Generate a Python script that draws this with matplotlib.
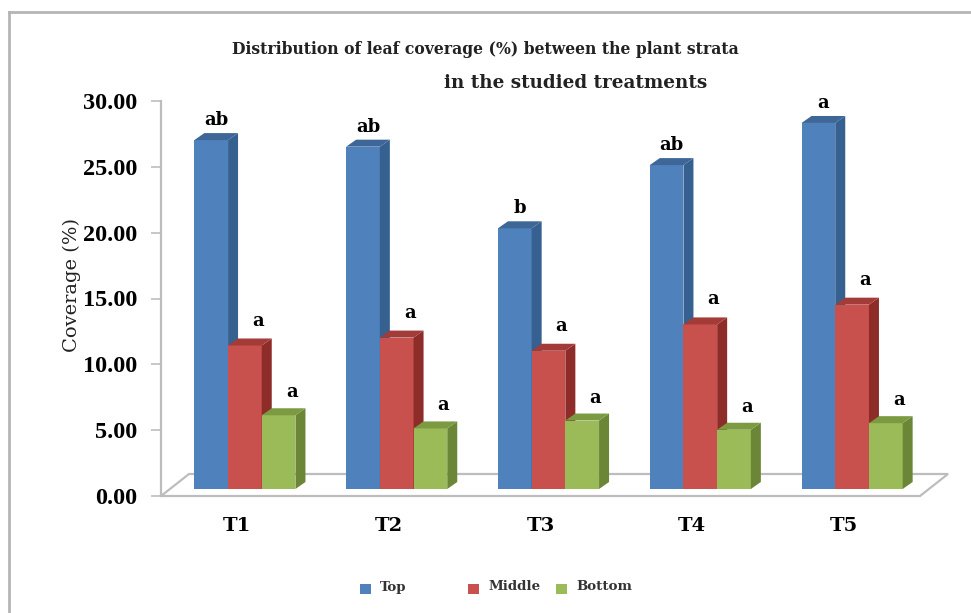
import matplotlib.pyplot as plt
from matplotlib.patches import Polygon, Rectangle

W, H = 971, 613

tratamentos = ["T1", "T2", "T3", "T4", "T5"]
top = [26.5, 26.0, 19.8, 24.6, 27.8]
middle = [10.9, 11.5, 10.5, 12.5, 14.0]
bottom = [5.6, 4.6, 5.2, 4.5, 5.0]
letras_top = ["ab", "ab", "b", "ab", "a"]
letras_middle = ["a", "a", "a", "a", "a"]
letras_bottom = ["a", "a", "a", "a", "a"]
y_ticks = [0, 5, 10, 15, 20, 25, 30]

# nome, valores, letras, cor, lateral, topo, deslocamento da letra (px)
series = [
    ("Top", top, letras_top, "#4F81BD", "#35608F", "#3E6797", (0, 0)),
    ("Middle", middle, letras_middle, "#C8504D", "#8E2C2A", "#A33B38", (8, 5)),
    ("Bottom", bottom, letras_bottom, "#9BBB59", "#6B8636", "#7B9A41", (8, 3)),
]

SERIF = "Liberation Serif"
TITLE_FONT = "DejaVu Serif"

fig = plt.figure(figsize=(W / 100, H / 100), dpi=100, facecolor="white")

# moldura cinza da imagem
fig.add_artist(plt.Line2D([9 / W, 9 / W], [0, 1 - 12 / H], color="#b5b5b5", lw=2))
fig.add_artist(plt.Line2D([9 / W, 1], [1 - 12 / H, 1 - 12 / H], color="#b5b5b5", lw=2))

ax = fig.add_axes([161 / W, 1 - 496 / H, 759 / W, 395 / H])
ax.set_xlim(-0.5, 4.5)
ax.set_ylim(0, 30)
ax.patch.set_alpha(0)

# conversao de pixels para unidades dos dados
px_x = 5 / 759
px_y = 30 / 395

largura = 33.7 * px_x
dx, dy = 10 * px_x, 7 * px_y
base = 7 * px_y
centro = 8 * px_x

# piso em perspectiva
fx, fy = 28 * px_x, 22 * px_y
piso = Polygon(
    [(-0.5, 0), (4.5, 0), (4.5 + fx, fy), (-0.5 + fx, fy)],
    closed=True, facecolor="white", edgecolor="#bdbdbd", lw=1.6,
    clip_on=False, zorder=1,
)
ax.add_patch(piso)

for i in range(len(tratamentos)):
    for j, (nome, valores, letras, cor, lado, topo, desloc) in enumerate(series):
        v = valores[i]
        x0 = i + centro + (j - 1.5) * largura
        x1 = x0 + largura
        y1 = base + v
        z = 3 + j
        ax.bar(x0, v, width=largura, bottom=base, align="edge", color=cor, zorder=z, clip_on=False)
        ax.add_patch(Polygon(
            [(x1, base), (x1 + dx, base + dy), (x1 + dx, y1 + dy), (x1, y1)],
            closed=True, facecolor=lado, edgecolor="none", zorder=z, clip_on=False,
        ))
        ax.add_patch(Polygon(
            [(x0, y1), (x1, y1), (x1 + dx, y1 + dy), (x0 + dx, y1 + dy)],
            closed=True, facecolor=topo, edgecolor="none", zorder=z, clip_on=False,
        ))
        ax.text(
            x0 + largura / 2 + dx / 2 + desloc[0] * px_x, y1 + dy + 0.3 + desloc[1] * px_y, letras[i],
            ha="center", va="bottom", fontsize=13, fontweight="bold",
            family=TITLE_FONT, color="black", zorder=10, clip_on=False,
        )

for lado_eixo in ["top", "right", "bottom"]:
    ax.spines[lado_eixo].set_visible(False)
ax.spines["left"].set_color("#bdbdbd")
ax.spines["left"].set_linewidth(1.6)

ax.set_yticks(y_ticks)
ax.set_yticklabels([f"{v:.2f}" for v in y_ticks], fontsize=17.5, fontweight="bold", family=SERIF)
ax.tick_params(axis="y", length=7, width=1.2, color="#bdbdbd", pad=10)
ax.set_xticks(range(len(tratamentos)))
ax.set_xticklabels(tratamentos, fontsize=14, fontweight="bold", family=TITLE_FONT)
ax.tick_params(axis="x", length=0, pad=15)

fig.text(72 / W, 1 - 285 / H, "Coverage (%)", rotation=90, ha="center", va="center",
         fontsize=14, family=TITLE_FONT, color="#222222")

fig.text(485 / W, 1 - 50 / H, "Distribution of leaf coverage (%) between the plant strata",
         ha="center", va="center", fontsize=11.25, fontweight="bold", family=TITLE_FONT, color="#222222")
fig.text(576 / W, 1 - 83 / H, "in the studied treatments",
         ha="center", va="center", fontsize=13.2, fontweight="bold", family=TITLE_FONT, color="#222222")

# legenda com espacamento irregular, como no original
leg_x = [360, 468, 556]
for (nome, valores, letras, cor, lado, topo, desloc), x in zip(series, leg_x):
    fig.add_artist(Rectangle((x / W, 1 - 594 / H), 10.5 / W, 10.5 / H, transform=fig.transFigure,
                             facecolor=cor, edgecolor="none"))
    fig.text((x + 20) / W, 1 - 587 / H, nome, ha="left", va="center",
             fontsize=9.6, fontweight="bold", family=TITLE_FONT, color="#333333")

fig.savefig("out.png", dpi=100)
